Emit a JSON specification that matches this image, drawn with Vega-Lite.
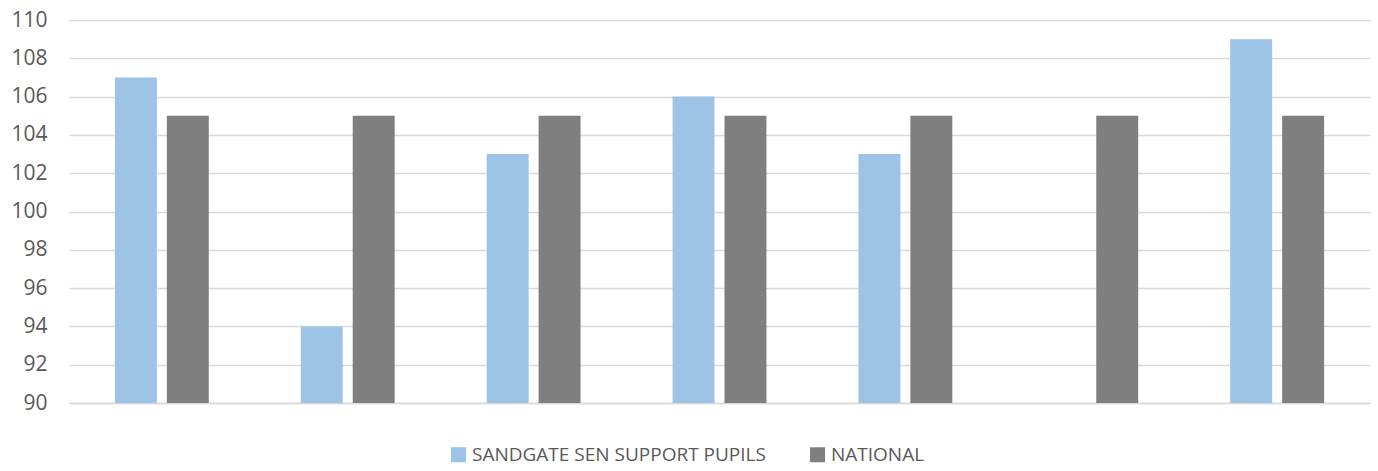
{
  "$schema": "https://vega.github.io/schema/vega-lite/v6.json",
  "autosize": {"type": "none"},
  "padding": {"left": 69, "top": 20, "right": 8, "bottom": 68},
  "width": 1301,
  "height": 383,
  "background": "white",
  "data": {
    "values": [
      {"cat": "1", "series": "SANDGATE SEN SUPPORT PUPILS", "value": 107},
      {"cat": "1", "series": "NATIONAL", "value": 105},
      {"cat": "2", "series": "SANDGATE SEN SUPPORT PUPILS", "value": 94},
      {"cat": "2", "series": "NATIONAL", "value": 105},
      {"cat": "3", "series": "SANDGATE SEN SUPPORT PUPILS", "value": 103},
      {"cat": "3", "series": "NATIONAL", "value": 105},
      {"cat": "4", "series": "SANDGATE SEN SUPPORT PUPILS", "value": 106},
      {"cat": "4", "series": "NATIONAL", "value": 105},
      {"cat": "5", "series": "SANDGATE SEN SUPPORT PUPILS", "value": 103},
      {"cat": "5", "series": "NATIONAL", "value": 105},
      {"cat": "6", "series": "SANDGATE SEN SUPPORT PUPILS", "value": null},
      {"cat": "6", "series": "NATIONAL", "value": 105},
      {"cat": "7", "series": "SANDGATE SEN SUPPORT PUPILS", "value": 109},
      {"cat": "7", "series": "NATIONAL", "value": 105}
    ]
  },
  "config": {
    "view": {"stroke": null},
    "font": "Open Sans"
  },
  "mark": {"type": "bar", "clip": true},
  "encoding": {
    "x": {
      "field": "cat",
      "type": "nominal",
      "sort": null,
      "scale": {"paddingInner": 0.495, "paddingOuter": 0.247},
      "axis": {"labels": false, "ticks": false, "title": null, "domain": true, "domainColor": "#D9D9D9", "domainWidth": 1.5}
    },
    "xOffset": {
      "field": "series",
      "type": "nominal",
      "sort": ["SANDGATE SEN SUPPORT PUPILS", "NATIONAL"],
      "scale": {"paddingInner": 0.1923, "paddingOuter": 0}
    },
    "y": {
      "field": "value",
      "type": "quantitative",
      "scale": {"domain": [90, 110], "nice": false, "zero": false},
      "axis": {
        "values": [90, 92, 94, 96, 98, 100, 102, 104, 106, 108, 110],
        "title": null,
        "domain": false,
        "ticks": false,
        "grid": true,
        "gridColor": "#D9D9D9",
        "gridWidth": 1.5,
        "labelColor": "#595959",
        "labelFontSize": 21,
        "labelPadding": 22,
        "labelFont": "Open Sans"
      }
    },
    "color": {
      "field": "series",
      "type": "nominal",
      "sort": ["SANDGATE SEN SUPPORT PUPILS", "NATIONAL"],
      "scale": {"domain": ["SANDGATE SEN SUPPORT PUPILS", "NATIONAL"], "range": ["#9DC3E6", "#7F7F7F"]},
      "legend": {
        "title": null,
        "orient": "none",
        "legendX": 380,
        "legendY": 425,
        "direction": "horizontal",
        "symbolType": "square",
        "symbolSize": 225,
        "symbolStrokeWidth": 0,
        "labelFontSize": 19,
        "labelLimit": 0,
        "labelColor": "#595959",
        "labelFont": "Open Sans",
        "labelOffset": 4,
        "columnPadding": 42
      }
    }
  }
}
